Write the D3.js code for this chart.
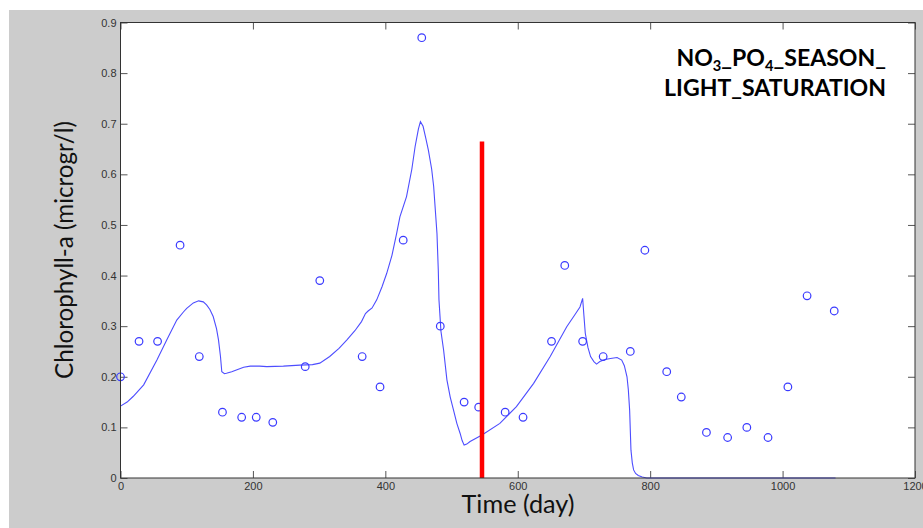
<!DOCTYPE html>
<html>
<head>
<meta charset="utf-8">
<script src="https://cdn.jsdelivr.net/npm/d3@7"></script>
<style>
html,body{margin:0;padding:0;background:#fff;}
svg{display:block;}
</style>
</head>
<body>
<svg id="chart" width="923" height="528"></svg>
<script>
// Observed chlorophyll-a
const obsDays = [0,28,56,90,119,154,183,205,230,279,301,365,392,427,455,483,519,541,581,608,651,671,698,729,770,792,825,847,885,917,946,978,1008,1037,1078];
const obsVals = [0.20,0.27,0.27,0.46,0.24,0.13,0.12,0.12,0.11,0.22,0.39,0.24,0.18,0.47,0.87,0.30,0.15,0.14,0.13,0.12,0.27,0.42,0.27,0.24,0.25,0.45,0.21,0.16,0.09,0.08,0.10,0.08,0.18,0.36,0.33];

// Model curve
const modelDays = [0,10,19,35,55,70,85,95,100,110,118,125,130,135,140,145,148,151,153,157,160,168,176,186,196,210,221,246,271,290,301,316,330,342,354,364,370,374,380,387,395,402,410,417,422,432,440,445,450,453,457,461,465,470,473,476,478,480,481,484,488,493,498,503,508,513,516,519,523,528,546,573,598,624,649,674,686,694,698,700,702,706,710,715,719,724,732,740,750,757,761,765,767,769,771,773,775,778,782,788,795,900,1000,1080];
const modelVals = [0.142,0.150,0.161,0.184,0.233,0.273,0.312,0.328,0.335,0.346,0.350,0.348,0.342,0.333,0.319,0.295,0.273,0.240,0.210,0.206,0.207,0.210,0.214,0.219,0.221,0.221,0.220,0.221,0.223,0.224,0.227,0.240,0.256,0.273,0.291,0.309,0.325,0.330,0.336,0.352,0.378,0.404,0.440,0.483,0.516,0.556,0.610,0.655,0.690,0.704,0.695,0.672,0.648,0.610,0.576,0.520,0.483,0.410,0.352,0.290,0.253,0.194,0.160,0.134,0.108,0.088,0.074,0.065,0.067,0.072,0.085,0.108,0.141,0.187,0.240,0.299,0.322,0.338,0.355,0.320,0.286,0.258,0.240,0.230,0.225,0.230,0.234,0.236,0.238,0.233,0.222,0.200,0.175,0.134,0.055,0.030,0.016,0.009,0.005,0.002,0.0,0.0,0.0,0.0];

// Vertical marker
const markerDays = [546,546];
const markerVals = [0,0.665];

const xTicks = [0,200,400,600,800,1000,1200];
const yTicks = [0,0.1,0.2,0.3,0.4,0.5,0.6,0.7,0.8,0.9];
const yLabel = "Chlorophyll-a (microgr/l)";
const xLabel = "Time (day)";

const svg = d3.select("#chart");
const L = 120.5, R = 915, T = 22.5, B = 478;

svg.append("rect").attr("x",9).attr("y",10).attr("width",914).attr("height",518).attr("fill","#cccccc");
svg.append("rect").attr("x",L).attr("y",T).attr("width",R-L).attr("height",B-T).attr("fill","#ffffff");

const x = d3.scaleLinear().domain([0,1200]).range([L,R]);
const y = d3.scaleLinear().domain([0,0.9]).range([B,T]);

const tickStyle = g => {
  g.select(".domain").remove();
  g.selectAll(".tick line").attr("stroke","#555").attr("stroke-width",1);
  g.selectAll(".tick text").attr("fill","#333").style("font-family","'Liberation Sans', Arial, sans-serif").style("font-size","11px");
};

svg.append("g").attr("transform",`translate(0,${B})`)
  .call(d3.axisBottom(x).tickValues(xTicks).tickSize(-7).tickPadding(4).tickFormat(d3.format("d")))
  .call(tickStyle);
svg.append("g").attr("transform",`translate(0,${T})`)
  .call(d3.axisTop(x).tickValues(xTicks).tickSize(-7).tickFormat(""))
  .call(tickStyle);
svg.append("g").attr("transform",`translate(${L},0)`)
  .call(d3.axisLeft(y).tickValues(yTicks).tickSize(-7).tickPadding(4).tickFormat(d => d===0 ? "0" : d3.format(".1f")(d)))
  .call(tickStyle);
svg.append("g").attr("transform",`translate(${R},0)`)
  .call(d3.axisRight(y).tickValues(yTicks).tickSize(-7).tickFormat(""))
  .call(tickStyle);

// clip
svg.append("clipPath").attr("id","clip").append("rect").attr("x",L).attr("y",T-6).attr("width",R-L).attr("height",B-T+6);

const model = modelDays.map((d,i)=>[d,modelVals[i]]);
svg.append("path").datum(model)
  .attr("fill","none").attr("stroke","#4d4dff").attr("stroke-width",1.1)
  .attr("d", d3.line().x(d=>x(d[0])).y(d=>y(d[1])));

svg.append("g").selectAll("circle").data(obsDays.map((d,i)=>[d,obsVals[i]])).join("circle")
  .attr("cx",d=>x(d[0])).attr("cy",d=>y(d[1])).attr("r",3.8)
  .attr("fill","none").attr("stroke","#3a3aff").attr("stroke-width",1.2);

const marker = markerDays.map((d,i)=>[d,markerVals[i]]);
svg.append("path").datum(marker)
  .attr("fill","none").attr("stroke","#ff0000").attr("stroke-width",4.5)
  .attr("d", d3.line().x(d=>x(d[0])).y(d=>y(d[1])));

// frame
svg.append("rect").attr("x",L).attr("y",T).attr("width",R-L).attr("height",B-T)
  .attr("fill","none").attr("stroke","#333").attr("stroke-width",1);

function fit(sel, target){
  const w = sel.node().getComputedTextLength();
  const fs = parseFloat(sel.style("font-size"));
  sel.style("font-size", (fs*target/w)+"px");
}

const yl = svg.append("text").attr("transform","translate(73,250) rotate(-90)")
  .attr("text-anchor","middle").style("font-family","Lato, 'Open Sans', sans-serif")
  .style("font-size","24px").attr("fill","#111").text(yLabel);
fit(yl, 258);

const xl = svg.append("text").attr("x",518).attr("y",513)
  .attr("text-anchor","middle").style("font-family","Lato, 'Open Sans', sans-serif")
  .style("font-size","24px").attr("fill","#111").text(xLabel);
fit(xl, 113);

const t1 = svg.append("text").attr("x",886).attr("y",66).attr("text-anchor","end")
  .style("font-family","Lato, 'Open Sans', sans-serif").style("font-weight","bold").style("font-size","22px").attr("fill","#000");
t1.append("tspan").text("NO");
t1.append("tspan").attr("dy",5).style("font-size","14px").text("3");
t1.append("tspan").attr("dy",-5).text("_PO");
t1.append("tspan").attr("dy",5).style("font-size","14px").text("4");
t1.append("tspan").attr("dy",-5).text("_SEASON_");
const t2 = svg.append("text").attr("x",886).attr("y",96).attr("text-anchor","end")
  .style("font-family","Lato, 'Open Sans', sans-serif").style("font-weight","bold").style("font-size","22px").attr("fill","#000")
  .text("LIGHT_SATURATION");
const w2 = t2.node().getComputedTextLength();
const s = 222/w2;
t2.style("font-size",(22*s)+"px");
t1.style("font-size",(22*s)+"px");
t1.selectAll("tspan").filter((d,i)=>i===1||i===3).style("font-size",(14*s)+"px");
</script>
</body>
</html>
